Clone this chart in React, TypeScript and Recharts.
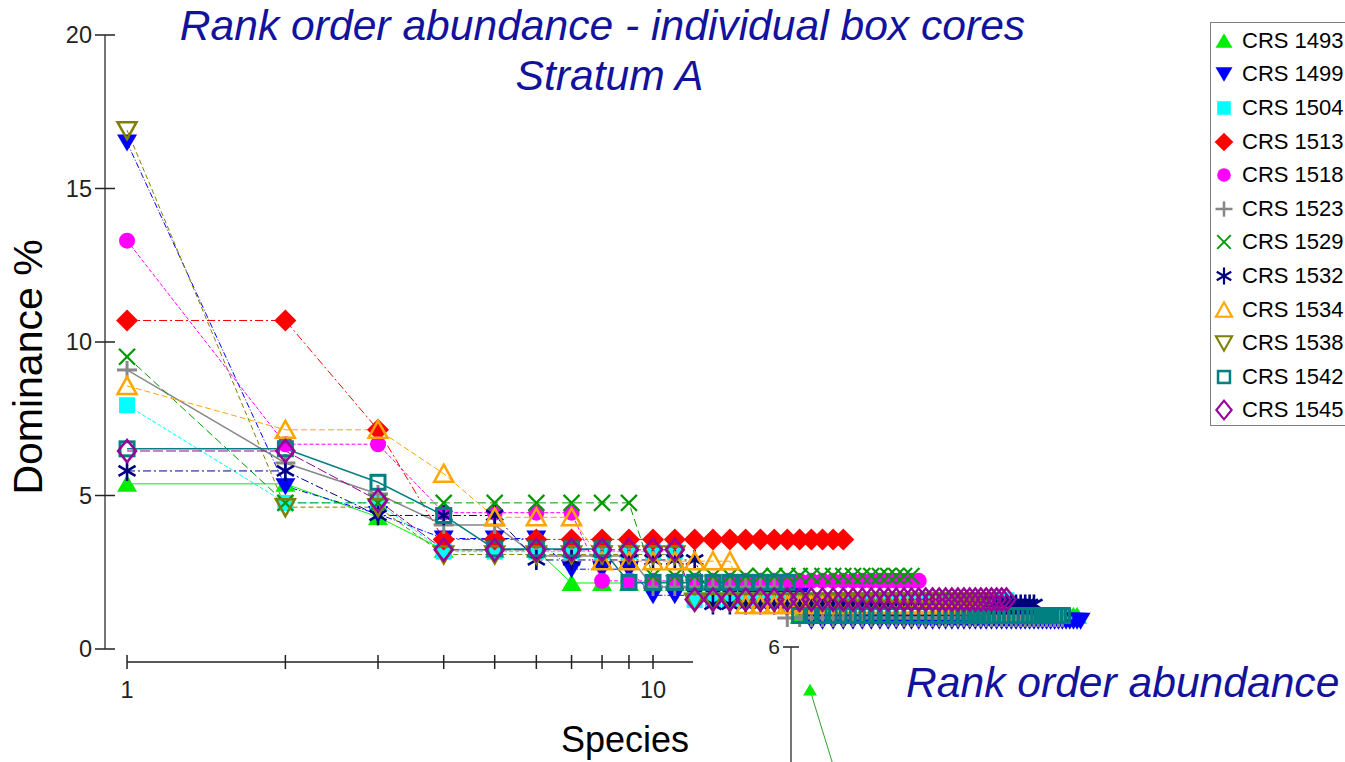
import React from "react";
import { LineChart, Line, XAxis, YAxis, ReferenceLine } from "recharts";

const FONT = "'Liberation Sans', Arial, sans-serif";
const NAVY_TEXT = "#12129c";

// each series: [dominance %, number of consecutive ranks at that value]
const crs1493 = [[5.38, 2], [4.3, 1], [3.23, 3], [2.15, 12], [1.08, 46]];
const crs1499 = [[16.5, 1], [5.3, 1], [4.4, 1], [3.6, 3], [2.6, 3], [1.75, 10], [0.92, 46]];
const crs1504 = [[7.94, 1], [4.76, 2], [3.17, 8], [1.59, 36]];
const crs1513 = [[10.7, 2], [7.14, 1], [3.57, 20]];
const crs1518 = [[13.3, 1], [6.67, 2], [4.44, 4], [2.22, 25]];
const crs1523 = [[9.09, 1], [6.06, 1], [5.05, 1], [4.04, 2], [3.03, 4], [2.02, 8], [1.01, 43]];
const crs1529 = [[9.52, 1], [4.76, 8], [2.38, 22]];
const crs1532 = [[5.8, 2], [4.35, 3], [2.9, 7], [1.45, 41]];
const crs1534 = [[8.57, 1], [7.14, 2], [5.71, 1], [4.29, 3], [2.86, 7], [1.43, 27]];
const crs1538 = [[16.9, 1], [4.62, 2], [3.08, 8], [1.54, 32]];
const crs1542 = [[6.52, 2], [5.43, 1], [4.35, 1], [3.26, 4], [2.17, 10], [1.09, 42]];
const crs1545 = [[6.45, 2], [4.84, 1], [3.23, 8], [1.61, 36]];

const yTicks = [0, 5, 10, 15, 20];
const xTicks = [1, 2, 3, 4, 5, 6, 7, 8, 9, 10];
const xLabelled = [1, 10];

// the second, partly hidden chart in the corner
const insetSeries = [5.57, 2.95];
const insetTicks = [6];

const expand = (runs: number[][]) => {
  const out: { x: number; y: number }[] = [];
  let rank = 1;
  runs.forEach(([v, n]) => {
    for (let i = 0; i < n; i++) out.push({ x: rank++, y: v });
  });
  return out;
};

const series = [
  { name: "CRS 1493", runs: crs1493, color: "#00ee00", shape: "triUp", dash: undefined, width: 1 },
  { name: "CRS 1499", runs: crs1499, color: "#0000ff", shape: "triDown", dash: "6 2 1 2", width: 1 },
  { name: "CRS 1504", runs: crs1504, color: "#00ffff", shape: "square", dash: "4 2", width: 1 },
  { name: "CRS 1513", runs: crs1513, color: "#ff0000", shape: "diamond", dash: "8 3 2 3", width: 1 },
  { name: "CRS 1518", runs: crs1518, color: "#ff00ff", shape: "circle", dash: "4 2", width: 1 },
  { name: "CRS 1523", runs: crs1523, color: "#888888", shape: "plus", dash: undefined, width: 1.5 },
  { name: "CRS 1529", runs: crs1529, color: "#009a00", shape: "cross", dash: "8 4", width: 1 },
  { name: "CRS 1532", runs: crs1532, color: "#000080", shape: "star", dash: "8 3 2 3", width: 1 },
  { name: "CRS 1534", runs: crs1534, color: "#ffa500", shape: "triUpOpen", dash: "6 3", width: 1 },
  { name: "CRS 1538", runs: crs1538, color: "#808000", shape: "triDownOpen", dash: "5 3", width: 1 },
  { name: "CRS 1542", runs: crs1542, color: "#008080", shape: "squareOpen", dash: undefined, width: 1.5 },
  { name: "CRS 1545", runs: crs1545, color: "#990099", shape: "diamondOpen", dash: "10 3", width: 1 },
];

function Marker({ shape, color, cx, cy, s = 1 }: any) {
  const p = (pts: number[][]) => pts.map(([a, b]) => `${cx + a * s},${cy + b * s}`).join(" ");
  switch (shape) {
    case "triUp":
      return <polygon points={p([[0, -9], [10, 8], [-10, 8]])} fill={color} />;
    case "triDown":
      return <polygon points={p([[-10, -8], [10, -8], [0, 9]])} fill={color} />;
    case "square":
      return <rect x={cx - 8 * s} y={cy - 8 * s} width={16 * s} height={16 * s} fill={color} />;
    case "diamond":
      return <polygon points={p([[0, -11], [11, 0], [0, 11], [-11, 0]])} fill={color} />;
    case "circle":
      return <circle cx={cx} cy={cy} r={8 * s} fill={color} />;
    case "plus":
      return (
        <g stroke={color} strokeWidth={3 * s}>
          <line x1={cx - 10 * s} y1={cy} x2={cx + 10 * s} y2={cy} />
          <line x1={cx} y1={cy - 9 * s} x2={cx} y2={cy + 9 * s} />
        </g>
      );
    case "cross":
      return (
        <g stroke={color} strokeWidth={2.2 * s}>
          <line x1={cx - 8 * s} y1={cy - 8 * s} x2={cx + 8 * s} y2={cy + 8 * s} />
          <line x1={cx - 8 * s} y1={cy + 8 * s} x2={cx + 8 * s} y2={cy - 8 * s} />
        </g>
      );
    case "star":
      return (
        <g stroke={color} strokeWidth={2.6 * s}>
          <line x1={cx} y1={cy - 10 * s} x2={cx} y2={cy + 10 * s} />
          <line x1={cx - 8.5 * s} y1={cy - 5 * s} x2={cx + 8.5 * s} y2={cy + 5 * s} />
          <line x1={cx - 8.5 * s} y1={cy + 5 * s} x2={cx + 8.5 * s} y2={cy - 5 * s} />
        </g>
      );
    case "triUpOpen":
      return <polygon points={p([[0, -9], [9.5, 8], [-9.5, 8]])} fill="none" stroke={color} strokeWidth={2.5 * s} />;
    case "triDownOpen":
      return <polygon points={p([[-9.5, -8], [9.5, -8], [0, 9]])} fill="none" stroke={color} strokeWidth={2.5 * s} />;
    case "squareOpen":
      return (
        <rect x={cx - 7 * s} y={cy - 7 * s} width={14 * s} height={14 * s} fill="none" stroke={color} strokeWidth={3 * s} />
      );
    case "diamondOpen":
      return <polygon points={p([[0, -11], [9, 0], [0, 11], [-9, 0]])} fill="none" stroke={color} strokeWidth={2.5 * s} />;
    default:
      return null;
  }
}

const dotFor = (shape: string, color: string, s = 1) => (props: any) => {
  const { cx, cy, index } = props;
  if (cx == null || cy == null) return <g key={`${shape}-${index}`} />;
  return <Marker key={`${shape}-${index}`} shape={shape} color={color} cx={cx} cy={cy} s={s} />;
};

const YTick = ({ y, payload }: any) => (
  <g>
    <line x1={95} x2={115} y1={y} y2={y} stroke="#222" strokeWidth={1.5} />
    <text x={92} y={y + 8} textAnchor="end" fontSize={23.5} fill="#222" fontFamily={FONT}>
      {payload.value}
    </text>
  </g>
);

const XTick = ({ x, payload }: any) => (
  <g>
    <line x1={x} x2={x} y1={655} y2={669} stroke="#222" strokeWidth={1.5} />
    {xLabelled.includes(payload.value) && (
      <text x={x} y={698} textAnchor="middle" fontSize={23.5} fill="#222" fontFamily={FONT}>
        {payload.value}
      </text>
    )}
  </g>
);

const InsetTick = ({ y, payload }: any) => (
  <g>
    <line x1={90} x2={106} y1={y} y2={y} stroke="#222" strokeWidth={1.5} />
    <text x={87} y={y + 7} textAnchor="end" fontSize={21} fill="#222" fontFamily={FONT}>
      {payload.value}
    </text>
  </g>
);

function LegendBox() {
  return (
    <div
      style={{
        position: "absolute",
        left: 1210,
        top: 22,
        width: 140,
        height: 404,
        border: "1px solid #808080",
        background: "#fff",
        boxSizing: "border-box",
        paddingTop: 1,
      }}
    >
      {series.map((s) => (
        <div key={s.name} style={{ height: 33.6, display: "flex", alignItems: "center" }}>
          <svg width={26} height={24} style={{ marginLeft: 1 }}>
            <Marker shape={s.shape} color={s.color} cx={12} cy={12} s={0.85} />
          </svg>
          <span style={{ fontSize: 22, marginLeft: 4, color: "#000", whiteSpace: "nowrap" }}>{s.name}</span>
        </div>
      ))}
    </div>
  );
}

export default function App() {
  const insetData = insetSeries.map((v, i) => ({ x: i + 1, y: v }));
  return (
    <div
      style={{
        position: "absolute",
        left: 0,
        top: 0,
        width: 1345,
        height: 762,
        background: "#fff",
        overflow: "hidden",
        fontFamily: FONT,
      }}
    >
      <LineChart width={1345} height={762} margin={{ top: 35, right: 166, bottom: 53, left: 0 }}>
        <XAxis
          type="number"
          dataKey="x"
          scale="log"
          domain={[0.908, 100]}
          allowDataOverflow
          ticks={xTicks}
          interval={0}
          axisLine={false}
          tickLine={false}
          tick={<XTick />}
          height={60}
        />
        <YAxis
          type="number"
          domain={[0, 20]}
          ticks={yTicks}
          interval={0}
          width={105}
          axisLine={{ stroke: "#777", strokeWidth: 2 }}
          tickLine={false}
          tick={<YTick />}
        />
        <ReferenceLine
          segment={[
            { x: 1, y: -0.423 },
            { x: 12, y: -0.423 },
          ]}
          stroke="#222"
          strokeWidth={1.5}
          ifOverflow="visible"
        />
        {series.map((s) => (
          <Line
            key={s.name}
            data={expand(s.runs)}
            dataKey="y"
            type="linear"
            stroke={s.color}
            strokeWidth={s.width}
            strokeDasharray={s.dash}
            dot={dotFor(s.shape, s.color)}
            activeDot={false}
            isAnimationActive={false}
          />
        ))}
      </LineChart>

      <div
        style={{
          position: "absolute",
          left: 175,
          top: 0,
          width: 855,
          textAlign: "center",
          fontSize: 42.6,
          fontStyle: "italic",
          color: NAVY_TEXT,
          lineHeight: "50px",
          whiteSpace: "nowrap",
        }}
      >
        <div>Rank order abundance - individual box cores</div>
        <div style={{ paddingLeft: 14 }}>Stratum A</div>
      </div>

      <div
        style={{
          position: "absolute",
          left: 28,
          top: 367,
          transform: "translate(-50%, -50%) rotate(-90deg)",
          fontSize: 41,
          whiteSpace: "nowrap",
          color: "#000",
        }}
      >
        Dominance %
      </div>

      <div
        style={{
          position: "absolute",
          left: 625,
          top: 740,
          transform: "translate(-50%, -50%)",
          fontSize: 36,
          whiteSpace: "nowrap",
          color: "#000",
        }}
      >
        Species
      </div>

      <LegendBox />

      <div
        style={{
          position: "absolute",
          left: 693,
          top: 630,
          width: 652,
          height: 132,
          background: "#fff",
          overflow: "hidden",
        }}
      >
        <LineChart width={652} height={700} margin={{ top: 17, right: 0, bottom: 83, left: 0 }}>
          <XAxis type="number" dataKey="x" scale="log" domain={[0.849, 100]} allowDataOverflow hide />
          <YAxis
            type="number"
            domain={[0, 6]}
            ticks={insetTicks}
            width={98}
            axisLine={{ stroke: "#777", strokeWidth: 2 }}
            tickLine={false}
            tick={<InsetTick />}
          />
          <Line
            data={insetData}
            dataKey="y"
            type="linear"
            stroke="#2ea02e"
            strokeWidth={1}
            dot={dotFor("triUp", "#00ee00", 0.7)}
            activeDot={false}
            isAnimationActive={false}
          />
        </LineChart>
        <div
          style={{
            position: "absolute",
            left: 213,
            top: 52,
            transform: "translateY(-50%)",
            fontSize: 42.6,
            fontStyle: "italic",
            color: NAVY_TEXT,
            whiteSpace: "nowrap",
          }}
        >
          Rank order abundance
        </div>
      </div>
    </div>
  );
}
